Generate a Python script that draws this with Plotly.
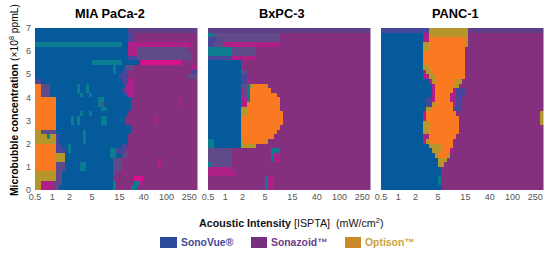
import numpy as np
import plotly.graph_objects as go

W, H = 550, 255
panel_names = ["MIA PaCa-2", "BxPC-3", "PANC-1"]
tick_vals = [0.5, 1, 2, 5, 15, 40, 100, 250]
y_ticks = [0, 1, 2, 3, 4, 5, 6, 7]
code_colors = {"b": "#055a9c", "p": "#85307f", "o": "#f97a20", "t": "#0a7d90", "m": "#ae1f87",
               "M": "#d8108c", "s": "#5f4a8a", "i": "#46479a", "y": "#b5962a", "d": "#5e3f88"}
legend_names = ["SonoVue®", "Sonazoid™", "Optison™"]
legend_swatch = ["#2a4a9c", "#77307f", "#c98a2a"]
legend_text = ["#3f4c98", "#6d3c88", "#c8a23c"]

# Response class per cell, top row first, run-length coded as <class><cells>
mia = """b31 d
b31 i2 p
b31 i2 p
t29 b2 m21 p
b31 m3 s17 p
b31 m3 s18 p
b31 i3 s18 p
b19 t10 b6 M14 p
b26 t1 b3 s3 p19 m2
b26 t1 b2 i2 p21 i2
b28 i3 p20 s3
i2 b27 i2 m2 p
o2 s3 b9 t1 b2 t1 b12 m3 p
o2 s3 b9 t1 b2 t1 b11 i1 m3 p
o2 s3 b10 t1 b2 t1 b11 i1 m2 p
o7 b14 t2 b9 p16 m1 p
o7 b14 t1 s1 b9 p16 m1 p
o7 b15 t2 b8 p
o7 b8 t1 b2 t1 b10 b2 p
o7 b5 t1 b1 t1 b7 t2 b6 p10 m1 p
o7 b5 t1 b1 t1 b7 t2 b6 p10 m1 p
o7 b25 p
y2 s5 b9 t1 b15 p
y4 t1 y2 i1 b8 t1 b14 p
y7 i1 b8 t1 b14 p
o7 i2 b2 t1 b14 b3 i2 p
o7 i3 b1 t1 b13 t2 i3 p
o7 y3 b15 t2 b2 s2 p
o7 y3 b16 s3 p12 m1 p
o7 s3 b5 t2 b9 s3 p12 m1 p
o7 s3 b5 t2 b9 s3 p
y7 s2 b17 s1 p
y7 s2 b17 p7 M3 p
y2 m4 s3 b17 t1 p6 t2 m1 p
y2 m4 s2 b18 t1 p5 t2 p"""

bxpc = """d
t2 s3 s19 p
i3 s2 s19 p
i2 s3 m19 p
t8 s8 p
t8 s8 p
i8 m8 p
b11 p
b11 p
b11 s2 p
b11 i2 p
b11 i2 m1 p
b11 s2 t1 y1 o4 y1 p
b11 m1 s1 t1 o7 p
b11 m1 s1 t1 o9 p
b11 m2 t1 o10 p
b11 m2 o11 p
b11 y2 o11 p
b11 y2 o12 p
b11 o14 p
b11 o14 p
b11 o13 p
b11 o12 p
b11 o11 p
t2 b9 y1 o7 y1 p
t2 b9 y5 p
s3 s5 p13 t3 p
s3 s5 p13 t1 m2 p
s3 s5 p13 t1 m2 p
t1 s2 s5 p
m8 p
m9 p
p19 t1 m2 p
p19 t1 m2 p
p19 t1 m2 p"""

panc = """i16 y13 d
b14 m2 y13 p
b14 m2 o12 y1 p
b14 y2 o12 y1 p
b14 y2 o12 p
b14 o14 p
b14 o14 p
b14 o14 p
b14 y2 o12 p
b14 m1 y2 o11 p
b14 m2 y2 o10 p
b16 m1 y1 o7 y2 p
b17 m1 o6 y1 y1 p
b17 m1 o6 m1 i3 p
b17 m1 o5 m2 i3 p
b15 i2 m1 o5 m2 i2 p
b15 i2 y1 o6 m1 i2 p
b15 y1 y1 o7 i3 p
b14 m1 o10 p28 y1
b14 m1 o11 p27 y1
b14 y2 o10 p27 y1
b14 y2 o10 p
b14 y2 o10 p
b14 m2 o9 p
b14 m1 y1 o8 p
b16 y4 o4 p
b17 y3 o3 m1 p
b18 y1 o3 y1 p
b19 y3 p
b19 y2 p
b20 p
b20 p
b19 t1 p
b19 t1 p
b20 p"""
panel_rows = [mia, bxpc, panc]

CODES = list(code_colors)
NCOL = 54


def decode(text):
    grid = []
    for line in text.splitlines():
        row = []
        runs = line.split()
        for run in runs:
            n = int(run[1:]) if len(run) > 1 else NCOL
            row += [CODES.index(run[0])] * n
        row = (row + [row[-1]] * NCOL)[:NCOL]
        grid.append(row)
    return grid[::-1]


n = len(CODES)
scale = []
for k, c in enumerate(CODES):
    scale += [[k / n, code_colors[c]], [(k + 1) / n, code_colors[c]]]

lefts = [35, 208, 381]
pw = 162.5
top, bottom = 28, 190
xmin, xmax = 0.5, 350
edges_x = np.logspace(np.log10(xmin), np.log10(xmax), NCOL + 1)
edges_y = np.linspace(0, 7, 36)

fig = go.Figure()
for i, (name, rows, left) in enumerate(zip(panel_names, panel_rows, lefts)):
    suffix = "" if i == 0 else str(i + 1)
    fig.add_trace(go.Heatmap(z=decode(rows), x=edges_x, y=edges_y, colorscale=scale, zmin=0, zmax=n,
                             showscale=False, hoverinfo="skip", xaxis="x" + suffix, yaxis="y" + suffix))
    tickfont = dict(family="Liberation Sans", size=9, color="#555555")
    fig.layout["xaxis" + suffix] = dict(type="log", domain=[left / W, (left + pw) / W],
                                        range=[np.log10(xmin), np.log10(xmax)], tickmode="array",
                                        tickvals=tick_vals, ticktext=[str(t) for t in tick_vals],
                                        ticks="", showgrid=False, zeroline=False, tickfont=tickfont,
                                        anchor="y" + suffix, automargin=False)
    fig.layout["yaxis" + suffix] = dict(domain=[(H - bottom) / H, (H - top) / H], range=[0, 7],
                                        tickmode="array", tickvals=y_ticks, ticks="", showgrid=False,
                                        zeroline=False, tickfont=tickfont, showticklabels=i == 0,
                                        ticklabelstandoff=3, anchor="x" + suffix, automargin=False)


def label(text, x, y, size, color="#000000", angle=0, anchor="center"):
    fig.add_annotation(text=text, x=x / W, y=1 - y / H, xref="paper", yref="paper", showarrow=False,
                       textangle=angle, xanchor=anchor, yanchor="middle",
                       font=dict(family="Liberation Sans", size=size, color=color))


for name, cx in zip(panel_names, [110, 282, 455]):
    label("<b>%s</b>" % name, cx, 13, 12.8)
label("<b>Microbubble concentration</b> (×10<sup>8</sup> ppmL)", 14, 100, 10.3, angle=-90)
label("<b>Acoustic Intensity</b> [ISPTA]  (mW/cm<sup>2</sup>)", 291, 222, 10.7, "#111111")

for name, sw, tc, x0, x1, tx in zip(legend_names, legend_swatch, legend_text, [160, 251, 345],
                                    [177, 267, 361], [179, 269, 363]):
    fig.add_shape(type="rect", xref="paper", yref="paper", x0=x0 / W, x1=x1 / W, y0=1 - 248 / H,
                  y1=1 - 237 / H, fillcolor=sw, line_width=0)
    label("<b>%s</b>" % name, tx, 242.5, 10.4, tc, anchor="left")

fig.update_layout(width=W, height=H, margin=dict(l=0, r=0, t=0, b=0, autoexpand=False),
                  plot_bgcolor="white", paper_bgcolor="white", showlegend=False)
fig.write_html("out.html", config={"displayModeBar": False}, default_width="550px", default_height="255px",
               post_script="document.body.style.margin='0';document.documentElement.style.overflow='hidden';")
